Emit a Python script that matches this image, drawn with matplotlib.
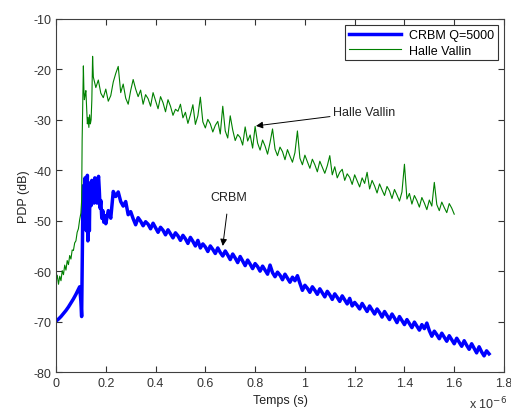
import numpy as np
import matplotlib
matplotlib.use("Agg")
import matplotlib.pyplot as plt

plt.rcParams['font.family'] = ['Liberation Sans', 'DejaVu Sans']
plt.rcParams['axes.unicode_minus'] = False

# times are in microseconds (axis shows x 10^-6)
# Halle Vallin: onset part
green_t0 = [0.000, 0.005, 0.010, 0.015, 0.020, 0.025, 0.030, 0.035, 0.040,
            0.045, 0.050, 0.055, 0.060, 0.065, 0.070, 0.075, 0.080, 0.085,
            0.090, 0.095, 0.100, 0.103, 0.105, 0.107, 0.110, 0.112, 0.114,
            0.117, 0.120, 0.123, 0.126, 0.129, 0.132, 0.135, 0.138, 0.141,
            0.144, 0.147]
green_v0 = [-62.0, -60.8, -62.6, -61.0, -61.9, -59.9, -60.7, -58.8, -59.8,
            -57.9, -58.7, -56.9, -57.6, -55.8, -55.9, -54.4, -54.0, -52.3,
            -51.6, -49.8, -48.5, -46.0, -34.0, -28.5, -19.3, -24.0, -26.0,
            -25.0, -24.2, -27.5, -30.8, -29.5, -31.5, -29.0, -30.8, -30.0,
            -26.0, -17.4]
# Halle Vallin: decay, sampled every 0.01 us from 0.15 to 1.60
green_start, green_step = 0.15, 0.01
green_v1 = [-21.5, -23.6, -22.1, -24.7, -25.6, -23.9, -26.3, -25.2, -22.5, -20.8,
            -19.4, -24.6, -22.9, -25.7, -26.9, -24.2, -22.0, -23.9, -25.4, -24.1,
            -26.9, -25.0, -25.8, -27.3, -24.6, -26.2, -27.8, -25.4, -26.6, -28.4,
            -26.0, -27.3, -29.1, -27.9, -28.3, -26.9, -29.6, -28.5, -30.7, -29.0,
            -27.0, -30.9, -29.2, -25.5, -30.4, -31.6, -29.9, -30.8, -32.4, -31.1,
            -30.3, -32.8, -27.3, -32.2, -33.6, -29.2, -32.0, -34.1, -32.9, -33.5,
            -35.0, -31.4, -34.2, -33.0, -35.6, -31.3, -34.6, -36.0, -34.0, -35.2,
            -36.8, -34.5, -31.8, -35.8, -37.1, -35.4, -36.3, -37.9, -35.9, -37.2,
            -38.4, -36.5, -32.2, -37.6, -38.9, -37.0, -38.3, -39.6, -37.8, -38.9,
            -40.3, -38.2, -39.4, -40.6, -39.1, -37.1, -40.9, -39.3, -41.5, -40.4,
            -39.8, -42.0, -40.7, -41.4, -42.8, -40.9, -42.1, -43.3, -41.5, -42.6,
            -40.4, -43.7, -42.0, -43.1, -44.5, -42.7, -43.9, -45.0, -43.2, -44.1,
            -45.6, -43.8, -44.9, -46.1, -44.3, -38.8, -45.7, -44.6, -46.7, -45.0,
            -46.0, -47.3, -45.4, -46.5, -47.8, -45.9, -47.1, -42.4, -46.8, -48.0,
            -46.3, -47.4, -48.4, -46.6, -47.5, -48.7]

# CRBM Q=5000: onset part
blue_t0 = [0.000, 0.010, 0.020, 0.030, 0.040, 0.050, 0.060, 0.070, 0.080,
           0.090, 0.095, 0.100, 0.103, 0.106, 0.108, 0.111, 0.114, 0.117,
           0.120, 0.122, 0.124, 0.126, 0.128, 0.130, 0.132, 0.134, 0.136,
           0.138, 0.141, 0.144, 0.147, 0.150, 0.153, 0.156, 0.159, 0.162,
           0.165, 0.168, 0.171, 0.174, 0.177, 0.180, 0.184, 0.188, 0.192,
           0.196]
blue_v0 = [-69.9, -69.5, -69.0, -68.4, -67.8, -67.1, -66.3, -65.5, -64.6,
           -63.6, -63.1, -66.0, -69.0, -55.0, -46.4, -43.0, -47.0, -41.5,
           -45.0, -52.0, -44.0, -41.0, -54.0, -46.0, -42.5, -52.0, -45.0,
           -43.0, -47.0, -42.0, -45.0, -43.5, -46.5, -41.5, -45.0, -43.0,
           -46.5, -42.0, -41.2, -44.0, -47.5, -46.0, -49.5, -48.0, -50.3,
           -49.0]
# CRBM Q=5000: decay, sampled every 0.01 us from 0.20 to 1.74
blue_start, blue_step = 0.20, 0.01
blue_v1 = [-50.6, -48.0, -49.5, -44.2, -45.2, -44.3, -46.2, -47.1, -46.2, -48.8,
           -48.2, -49.6, -50.8, -49.4, -50.1, -51.0, -50.2, -50.7, -51.6, -50.5,
           -51.4, -52.3, -51.3, -51.9, -52.8, -51.8, -52.6, -53.4, -52.4, -53.0,
           -53.9, -52.9, -53.6, -54.5, -53.3, -54.1, -55.0, -53.9, -55.4, -54.6,
           -55.2, -56.1, -55.0, -55.7, -56.5, -55.4, -56.3, -57.0, -56.0, -56.8,
           -57.7, -56.6, -57.4, -58.3, -57.1, -58.0, -58.9, -57.8, -58.6, -59.5,
           -58.5, -59.1, -60.0, -59.0, -59.8, -60.6, -58.8, -60.3, -61.1, -60.2,
           -60.8, -61.7, -60.6, -61.4, -62.2, -61.2, -61.9, -60.9, -62.4, -63.8,
           -62.8, -63.4, -64.2, -63.1, -63.8, -64.6, -63.5, -64.3, -65.1, -64.0,
           -64.7, -65.6, -64.5, -65.2, -66.0, -64.9, -65.7, -66.5, -65.4, -66.9,
           -66.2, -66.8, -67.5, -66.4, -67.2, -68.0, -66.9, -67.7, -68.5, -67.5,
           -68.2, -69.1, -68.0, -68.8, -69.6, -68.5, -69.3, -70.2, -69.0, -69.8,
           -70.6, -69.6, -70.4, -71.2, -70.1, -70.9, -71.7, -70.6, -71.4, -70.3,
           -71.8, -72.9, -71.9, -72.6, -73.4, -72.3, -73.1, -73.9, -72.8, -73.6,
           -74.4, -73.3, -74.1, -74.9, -73.8, -74.7, -75.5, -74.4, -75.3, -76.2,
           -75.0, -76.0, -76.8, -75.8, -76.4]

xticks = [0, 0.2, 0.4, 0.6, 0.8, 1, 1.2, 1.4, 1.6, 1.8]
xticklabels = ['0', '0.2', '0.4', '0.6', '0.8', '1', '1.2', '1.4', '1.6', '1.8']
yticks = [-80, -70, -60, -50, -40, -30, -20, -10]

green_t = green_t0 + [green_start + i * green_step for i in range(len(green_v1))]
green_v = green_v0 + green_v1
blue_t = blue_t0 + [blue_start + i * blue_step for i in range(len(blue_v1))]
blue_v = blue_v0 + blue_v1

fig = plt.figure(figsize=(5.11, 4.14), dpi=100)
ax = fig.add_axes([0.1096, 0.099, 0.8767, 0.8527])

ax.plot(blue_t, blue_v, color='#0000ff', lw=2.5, label='CRBM Q=5000')
ax.plot(green_t, green_v, color='#008000', lw=0.8, label='Halle Vallin')

ax.set_xlim(0, 1.8)
ax.set_ylim(-80, -10)
ax.set_xticks(xticks)
ax.set_xticklabels(xticklabels)
ax.set_yticks(yticks)
ax.tick_params(direction='in', length=4, top=True, right=True,
               labelsize=9, colors='#333333', width=0.8)
for s in ax.spines.values():
    s.set_color('#404040')
    s.set_linewidth(0.8)

ax.set_xlabel('Temps (s)', fontsize=9, color='#222222', labelpad=4)
ax.set_ylabel('PDP (dB)', fontsize=9, color='#222222', labelpad=2)

ax.annotate('Halle Vallin', xy=(0.8035, -31.2), xytext=(1.112, -28.5),
            fontsize=9, color='#222222', va='center', ha='left',
            arrowprops=dict(arrowstyle='-|>', color='k', lw=0.7,
                            mutation_scale=10, shrinkA=0, shrinkB=0))
ax.annotate('CRBM', xy=(0.67, -55.0), xytext=(0.695, -45.3),
            fontsize=9, color='#222222', va='center', ha='center',
            arrowprops=dict(arrowstyle='-|>', color='k', lw=0.7,
                            mutation_scale=10, shrinkA=6, shrinkB=0))

leg = ax.legend(loc='upper right', fontsize=9, frameon=True, fancybox=False,
                edgecolor='#333333', framealpha=1, handlelength=4.2,
                borderaxespad=0.5, borderpad=0.3, labelspacing=0.3,
                handletextpad=0.6)
leg.get_frame().set_linewidth(0.8)

fig.text(0.918, 0.004, r'x 10$^{-6}$', fontsize=9, color='#333333',
         va='bottom', ha='left')

fig.savefig('out.png', dpi=100)
